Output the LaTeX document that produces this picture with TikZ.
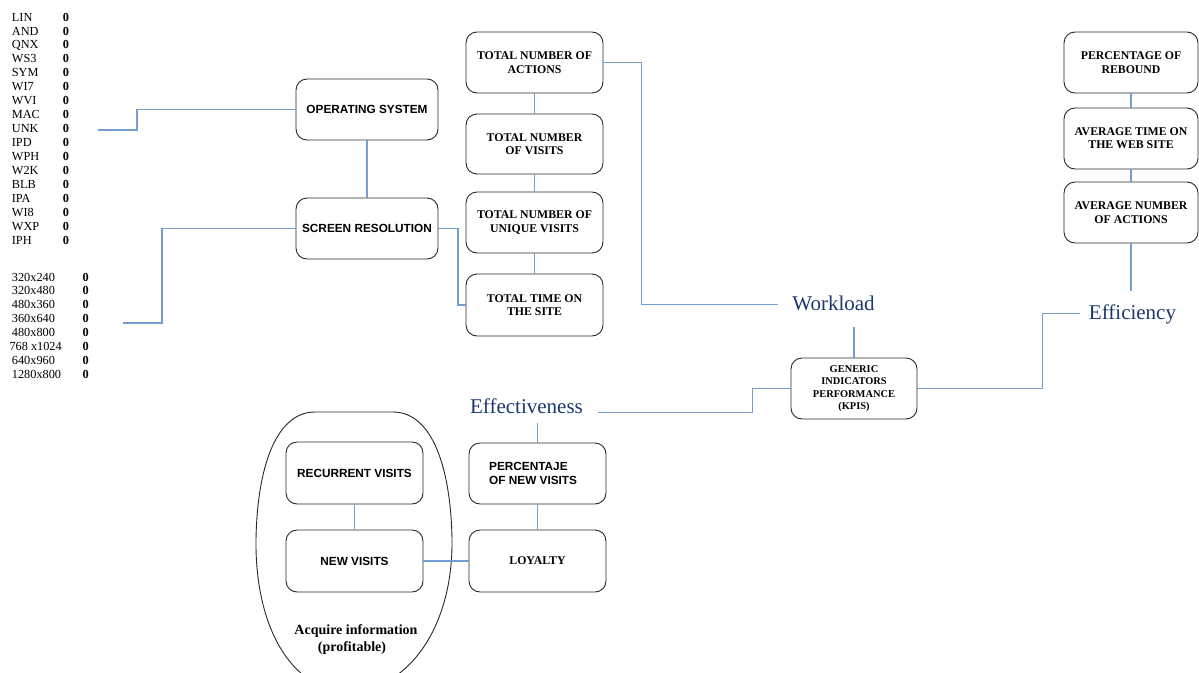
\documentclass[tikz,border=0pt]{standalone}
\usepackage{fontspec}
\setmainfont{Liberation Serif}
\newfontfamily\arialfont{Liberation Sans}
\usetikzlibrary{calc}
\definecolor{linkblue}{RGB}{116,157,210}
\definecolor{navy}{RGB}{28,55,112}
\definecolor{boxline}{RGB}{40,40,40}
\tikzset{
  box/.style={draw=boxline, line width=0.9pt, rounded corners=11pt, minimum width=137pt, minimum height=61pt, inner sep=2pt, align=center, font=\fontsize{11.8}{13.3}\selectfont\bfseries},
  sbox/.style={box, font=\arialfont\fontsize{11.8}{13.6}\selectfont\bfseries},
  kbox/.style={box, minimum width=126pt, font=\fontsize{10.4}{12.4}\selectfont\bfseries},
  conn/.style={draw=linkblue, line width=1.1pt},
  lab/.style={text=navy, inner sep=0pt, anchor=base, font=\fontsize{21}{24}\selectfont},
  listtxt/.style={inner sep=0pt, font=\fontsize{12.3}{14}\selectfont},
  listval/.style={inner sep=0pt, anchor=base, font=\fontsize{12.3}{14}\selectfont\bfseries}
}
\begin{document}
\begin{tikzpicture}[x=1pt,y=-1pt]
\useasboundingbox (0,0) rectangle (1199,672);
\clip (0,0) rectangle (1199,672);

% operating system list
\foreach \n [count=\i] in {LIN,AND,QNX,WS3,SYM,WI7,WVI,MAC,UNK,IPD,WPH,W2K,BLB,IPA,WI8,WXP,IPH} {
  \node[listtxt, anchor=base west] (osn\i) at (11.7,{21.1+(\i-1)*13.94}) {\n};
  \node[listval] (osv\i) at (66,{21.1+(\i-1)*13.94}) {0};
}
% resolution list
\foreach \n/\xx [count=\i] in {320x240/11.7,320x480/11.7,480x360/11.7,360x640/11.7,480x800/11.7,768 x1024/9.3,640x960/11.7,1280x800/11.7} {
  \node[listtxt, anchor=base west] (rsn\i) at (\xx,{281.1+(\i-1)*13.86}) {\n};
  \node[listval] (rsv\i) at (85.7,{281.1+(\i-1)*13.86}) {0};
}
\coordinate (oslink) at (98,130);
\coordinate (reslink) at (123,323);

% boxes
\node[sbox, minimum width=142pt] (os) at (367,109.5) {OPERATING SYSTEM};
\node[sbox, minimum width=142pt] (sr) at (367,228.5) {SCREEN RESOLUTION};

\node[box] (tna) at (534.5,62.5) {TOTAL NUMBER OF\\ACTIONS};
\node[box, minimum height=60pt] (tnv) at (534.5,144) {TOTAL NUMBER\\OF VISITS};
\node[box] (tnuv) at (534.5,222.5) {TOTAL NUMBER OF\\UNIQUE VISITS};
\node[box, minimum height=62pt] (tt) at (534.5,305) {TOTAL TIME ON\\THE SITE};

\node[box, minimum width=134pt] (pr) at (1131,62.5) {PERCENTAGE OF\\REBOUND};
\node[box, minimum width=134pt] (atw) at (1131,138.5) {AVERAGE TIME ON\\THE WEB SITE};
\node[box, minimum width=134pt] (ana) at (1131,212.5) {AVERAGE NUMBER\\OF ACTIONS};

\node[kbox] (kpi) at (854,388.5) {GENERIC\\INDICATORS\\PERFORMANCE\\(KPIS)};

\node[box, minimum height=61pt] (pnv) at (537.5,473.5) {};
\node[inner sep=0pt, anchor=west, align=left, font=\arialfont\fontsize{11.8}{13.6}\selectfont\bfseries] (pnvtxt) at (489,473.5) {PERCENTAJE\\OF NEW VISITS};
\node[box, minimum height=62pt] (loy) at (537.5,561) {LOYALTY};
\node[sbox, minimum height=62pt] (rv) at (354.5,473) {RECURRENT VISITS};
\node[sbox, minimum height=62pt] (nv) at (354.5,561) {NEW VISITS};

% enclosing shape
\draw[boxline, line width=0.9pt] (315,412) .. controls (275,412) and (257,470) .. (256,540)
  .. controls (255,625) and (290,690) .. (348,692)
  .. controls (410,690) and (453,625) .. (452,540)
  .. controls (451,470) and (433,412) .. (393,412) -- cycle;
\node[inner sep=0pt, align=center, font=\fontsize{14}{17}\selectfont\bfseries] (acqtxt) at (356,640) {Acquire information\\\hspace*{-8pt}(profitable)};

% labels
\node[lab] (wl) at (833.5,310) {Workload};
\node[lab] (ef) at (1132.5,319) {Efficiency};
\node[lab] (eff) at (526.5,413) {Effectiveness};

% connectors
\draw[conn] (oslink) -- ++(39,0) |- (os.west);
\draw[conn] (reslink) -- ++(39,0) |- (sr.west);
\draw[conn] (os.south) -- (sr.north);
\draw[conn] (sr.east) -- ++(19.5,0) |- (tt.west);
\draw[conn] (tna.south) -- (tnv.north);
\draw[conn] (tnv.south) -- (tnuv.north);
\draw[conn] (tnuv.south) -- (tt.north);
\draw[conn] (tna.east) -- ++(38,0) |- ([xshift=-14pt,yshift=-2pt]wl.west);
\draw[conn] (kpi.north) -- ++(0,-31);
\draw[conn] (kpi.east) -- ++(125,0) |- ([xshift=-8.5pt]ef.west);
\draw[conn] (ana.south) -- ++(0,48);
\draw[conn] (pr.south) -- (atw.north);
\draw[conn] (atw.south) -- (ana.north);
\draw[conn] (kpi.west) -- ++(-38,0) |- ([xshift=15pt,yshift=-7pt]eff.east);
\draw[conn] (pnv.north) -- ++(0,-20);
\draw[conn] (pnv.south) -- (loy.north);
\draw[conn] (rv.south) -- (nv.north);
\draw[conn] (nv.east) -- (loy.west);
\end{tikzpicture}
\end{document}
